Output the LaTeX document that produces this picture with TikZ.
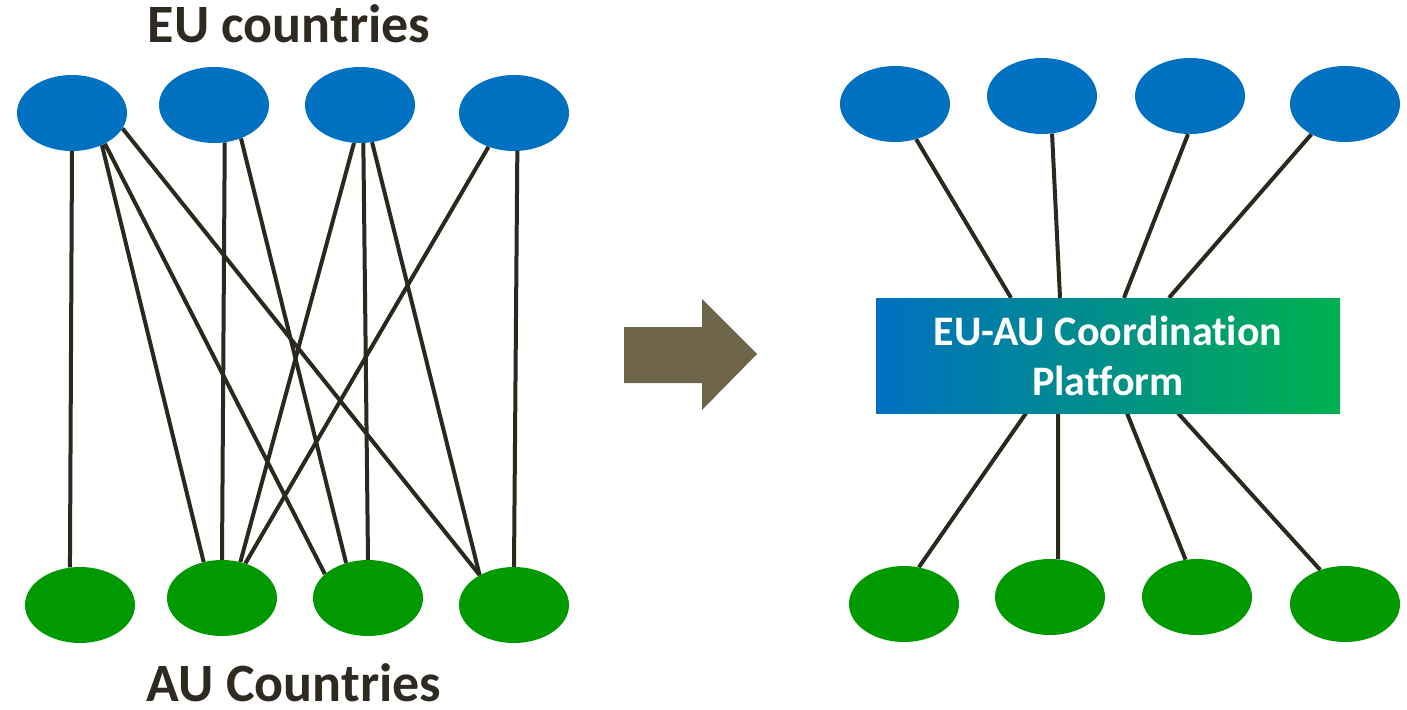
\documentclass[tikz,border=0pt]{standalone}
\usepackage{fontspec}
\setmainfont{Carlito}[Ligatures=NoCommon]
\usetikzlibrary{shapes.geometric,calc}
\definecolor{eublue}{HTML}{0070C0}
\definecolor{augreen}{HTML}{009900}
\definecolor{linec}{HTML}{2B2820}
\definecolor{arrowc}{HTML}{6E6449}
\definecolor{txtc}{HTML}{2F2A21}
\definecolor{gradg}{HTML}{00B050}
\pgfdeclarelayer{background}
\pgfsetlayers{background,main}
\begin{document}
\begin{tikzpicture}[x=1pt,y=-1pt,
  eu/.style={ellipse,fill=eublue,minimum width=110,minimum height=76,inner sep=0},
  au/.style={ellipse,fill=augreen,minimum width=110,minimum height=76,inner sep=0},
  link/.style={draw=linec,line width=4pt},
  title/.style={text=txtc,font=\bfseries\fontsize{54}{60}\selectfont,inner sep=0,anchor=base},
  platform/.style={left color=eublue,right color=gradg,minimum width=464,minimum height=115,inner sep=0,
    text=white,align=center,font=\bfseries\fontsize{42}{50}\selectfont}]
\useasboundingbox (0,0) rectangle (1407,709);
% titles
\node[title] (eut) at (289,43) {EU countries};
\node[title] (aut) at (294,701) {AU Countries};
% left side
\node[eu] (E1) at (72,113) {};
\node[eu] (E2) at (214,105) {};
\node[eu] (E3) at (360,105) {};
\node[eu] (E4) at (514,113) {};
\node[au] (A1) at (80,605) {};
\node[au] (A2) at (222,598) {};
\node[au] (A3) at (368,598) {};
\node[au] (A4) at (514,605) {};
% arrow
\fill[arrowc] (624,327) -- (702,327) -- (702,299) -- (757,354) -- (702,410) -- (702,383) -- (624,383) -- cycle;
% right side
\node[eu] (R1) at (895,104) {};
\node[eu] (R2) at (1042,96) {};
\node[eu] (R3) at (1190,96) {};
\node[eu] (R4) at (1345,104) {};
\node[au] (G1) at (904,604) {};
\node[au] (G2) at (1050,597) {};
\node[au] (G3) at (1197,597) {};
\node[au] (G4) at (1345,604) {};
\node[platform] (P) at (1108,355.5) {EU-AU Coordination\\Platform};
\begin{pgfonlayer}{background}
\draw[link] (E1.-90) -- (A1.105);
\draw[link] (E1.-47) -- (A2.117);
\draw[link] (E1.-43) -- (A3.151);
\draw[link] (E1.-17) -- (A4.139);
\draw[link] (E2.-74) -- (A2.90);
\draw[link] (E2.-51) -- (A3.122);
\draw[link] (E3.-99) -- (A2.63);
\draw[link] (E3.-85) -- (A3.90);
\draw[link] (E3.-72) -- (A4.139);
\draw[link] (E4.-127) -- (A2.56);
\draw[link] (E4.-85) -- (A4.90);
\draw[link] (R1.-59) -- ([xshift=-97pt]P.north);
\draw[link] (R2.-75) -- ([xshift=-48pt]P.north);
\draw[link] (R3.-93) -- ([xshift=16pt]P.north);
\draw[link] (R4.-138) -- ([xshift=61pt]P.north);
\draw[link] ([xshift=-82pt]P.south) -- (G1.68);
\draw[link] ([xshift=-50pt]P.south) -- (G2.78);
\draw[link] ([xshift=19pt]P.south) -- (G3.107);
\draw[link] ([xshift=70pt]P.south) -- (G4.126);
\end{pgfonlayer}
\end{tikzpicture}
\end{document}
